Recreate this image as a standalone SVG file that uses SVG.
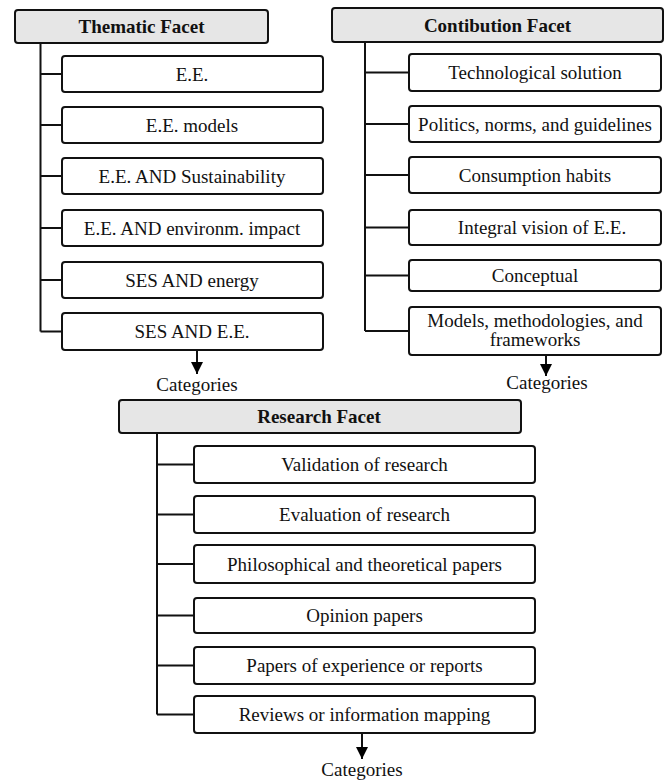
<svg xmlns="http://www.w3.org/2000/svg" width="669" height="783" viewBox="0 0 669 783">
<defs>
<style>
.hdr{fill:#e6e6e6;stroke:#111111;stroke-width:2}
.box{fill:#ffffff;stroke:#111111;stroke-width:2}
.t{font-family:"Liberation Serif","Times New Roman",serif;font-size:19px;fill:#111111;text-anchor:middle}
.b{font-weight:bold}
.ln{fill:none;stroke:#111111;stroke-width:2}
</style>
<marker id="ah" viewBox="0 0 12 12" refX="12" refY="6" markerWidth="12" markerHeight="12" markerUnits="userSpaceOnUse" orient="auto">
<path d="M0,0 L12,6 L0,12 z" fill="#000"/>
</marker>
</defs>
<rect width="669" height="783" fill="#ffffff"/>
<g id="connectors">
<path class="ln" d="M40.5,43 V331.5 M40.5,74 H62 M40.5,125 H62 M40.5,176 H62 M40.5,228 H62 M40.5,280 H62 M40.5,331.5 H62"/>
<path class="ln" d="M365,42 V331 M365,72.5 H409 M365,124 H409 M365,175 H409 M365,227.5 H409 M365,275.5 H409 M365,331 H409"/>
<path class="ln" d="M157,433 V714.5 M157,464.5 H194 M157,514.5 H194 M157,564 H194 M157,615.5 H194 M157,665.5 H194 M157,714.5 H194"/>
<line class="ln" x1="197" y1="350" x2="197" y2="374" marker-end="url(#ah)"/>
<line class="ln" x1="546" y1="355" x2="546" y2="376" marker-end="url(#ah)"/>
<line class="ln" x1="362" y1="733" x2="362" y2="759" marker-end="url(#ah)"/>
</g>
<g id="thematic">
<rect class="hdr" x="15" y="10" width="253" height="33" rx="3"/>
<text class="t b" x="141.5" y="33">Thematic Facet</text>
</g>
<g id="t1"><rect class="box" x="62" y="56" width="261" height="36" rx="3"/><text class="t" x="192" y="80.5">E.E.</text></g>
<g id="t2"><rect class="box" x="62" y="107" width="261" height="36" rx="3"/><text class="t" x="192" y="131.5">E.E. models</text></g>
<g id="t3"><rect class="box" x="62" y="158" width="261" height="36" rx="3"/><text class="t" x="192" y="182.5">E.E. AND Sustainability</text></g>
<g id="t4"><rect class="box" x="62" y="210" width="261" height="36" rx="3"/><text class="t" x="192" y="234.5">E.E. AND environm. impact</text></g>
<g id="t5"><rect class="box" x="62" y="262" width="261" height="36" rx="3"/><text class="t" x="192" y="286.5">SES AND energy</text></g>
<g id="t6"><rect class="box" x="62" y="313" width="261" height="37" rx="3"/><text class="t" x="192" y="338">SES AND E.E.</text></g>
<g id="tcat"><text class="t" x="197" y="391">Categories</text></g>
<g id="contribution">
<rect class="hdr" x="332" y="8" width="331" height="34" rx="3"/>
<text class="t b" x="497.5" y="31.5">Contibution Facet</text>
</g>
<g id="c1"><rect class="box" x="409" y="54" width="252" height="37" rx="3"/><text class="t" x="535" y="79">Technological solution</text></g>
<g id="c2"><rect class="box" x="409" y="106" width="252" height="36" rx="3"/><text class="t" x="535" y="130.5">Politics, norms, and guidelines</text></g>
<g id="c3"><rect class="box" x="409" y="157" width="252" height="36" rx="3"/><text class="t" x="535" y="181.5">Consumption habits</text></g>
<g id="c4"><rect class="box" x="409" y="210" width="252" height="35" rx="3"/><text class="t" x="542" y="234">Integral vision of E.E.</text></g>
<g id="c5"><rect class="box" x="409" y="260" width="252" height="31" rx="3"/><text class="t" x="535" y="282">Conceptual</text></g>
<g id="c6"><rect class="box" x="409" y="307" width="252" height="48" rx="3"/><text class="t" x="535" y="327">Models, methodologies, and</text><text class="t" x="535" y="346">frameworks</text></g>
<g id="ccat"><text class="t" x="547" y="389">Categories</text></g>
<g id="research">
<rect class="hdr" x="119" y="400" width="402" height="33" rx="3"/>
<text class="t b" x="319" y="423">Research Facet</text>
</g>
<g id="r1"><rect class="box" x="194" y="446" width="341" height="37" rx="3"/><text class="t" x="364.5" y="471">Validation of research</text></g>
<g id="r2"><rect class="box" x="194" y="496" width="341" height="37" rx="3"/><text class="t" x="364.5" y="521">Evaluation of research</text></g>
<g id="r3"><rect class="box" x="194" y="545" width="341" height="38" rx="3"/><text class="t" x="364.5" y="570.5">Philosophical and theoretical papers</text></g>
<g id="r4"><rect class="box" x="194" y="598" width="341" height="35" rx="3"/><text class="t" x="364.5" y="622">Opinion papers</text></g>
<g id="r5"><rect class="box" x="194" y="647" width="341" height="37" rx="3"/><text class="t" x="364.5" y="672">Papers of experience or reports</text></g>
<g id="r6"><rect class="box" x="194" y="696" width="341" height="37" rx="3"/><text class="t" x="364.5" y="721">Reviews or information mapping</text></g>
<g id="rcat"><text class="t" x="362" y="776">Categories</text></g>
</svg>
